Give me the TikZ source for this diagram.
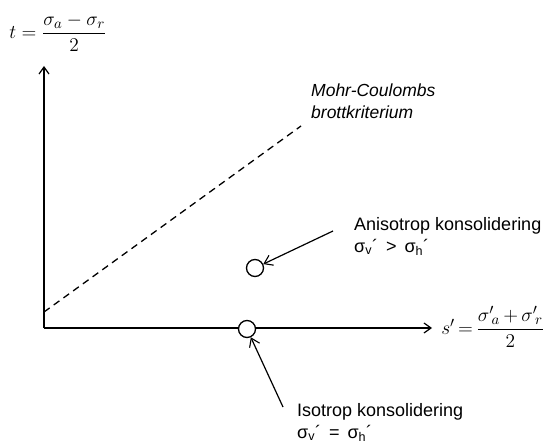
\documentclass[tikz,border=0pt]{standalone}
\usepackage{amsmath}
\usepackage{fontspec}
\setsansfont{Liberation Sans}
\usetikzlibrary{arrows.meta}
\begin{document}
\begin{tikzpicture}[x=1pt,y=-1pt,
  axis/.style={line width=1.4pt,-{Straight Barb[length=7pt,width=10pt,line width=1.2pt]}},
  pointer/.style={line width=1.2pt,-{Straight Barb[length=8pt,width=11pt,line width=1.1pt]}},
  lbl/.style={font=\sffamily\fontsize{18}{22}\selectfont,anchor=north west,inner sep=0pt,align=left},
  frm/.style={inner sep=0pt,scale=1.35,font=\fontsize{15}{18}\selectfont},
  pt/.style={circle,draw,line width=1.3pt,minimum size=17pt,inner sep=0pt,fill=white}]
\useasboundingbox (0,0) rectangle (548,443);
\coordinate (O) at (44,328);
\coordinate (ytop) at (44,66);
\coordinate (xend) at (432,328);
\draw[axis] (O) -- (ytop);
\draw[axis] (O) -- (xend);
\coordinate (d1) at (44,312);
\coordinate (d2) at (301,126);
\draw[line width=1.3pt,dash pattern=on 7pt off 5pt] (d1) -- (d2);
\node[pt] (p1) at (255,268) {};
\node[pt] (p2) at (247,329) {};
\node[frm,anchor=west] (tf) at (9,33) {$t=\dfrac{\sigma_a-\sigma_r}{2}$};
\node[frm,anchor=west,scale=1.0] (sf) at (441,327) {$s'\mkern-2mu=\mkern-2mu\dfrac{{\sigma'}_{\!a}\mkern-1mu+\mkern-1mu{\sigma'}_{\!r}}{2}$};
\node[lbl,font=\sffamily\itshape\fontsize{17.5}{21.5}\selectfont] (mc) at (311,84) {Mohr-Coulombs\\brottkriterium};
\node[lbl] (an) at (354,217) {Anisotrop konsolidering\\σ\textsubscript{v}´ \,>\, σ\textsubscript{h}´};
\node[lbl] (is) at (297,403) {Isotrop konsolidering\\σ\textsubscript{v}´ \,=\, σ\textsubscript{h}´};
\coordinate (a1) at (333,231);
\coordinate (a2) at (283,407);
\draw[pointer] (a1) -- (p1);
\draw[pointer] (a2) -- (p2);
\end{tikzpicture}
\end{document}
